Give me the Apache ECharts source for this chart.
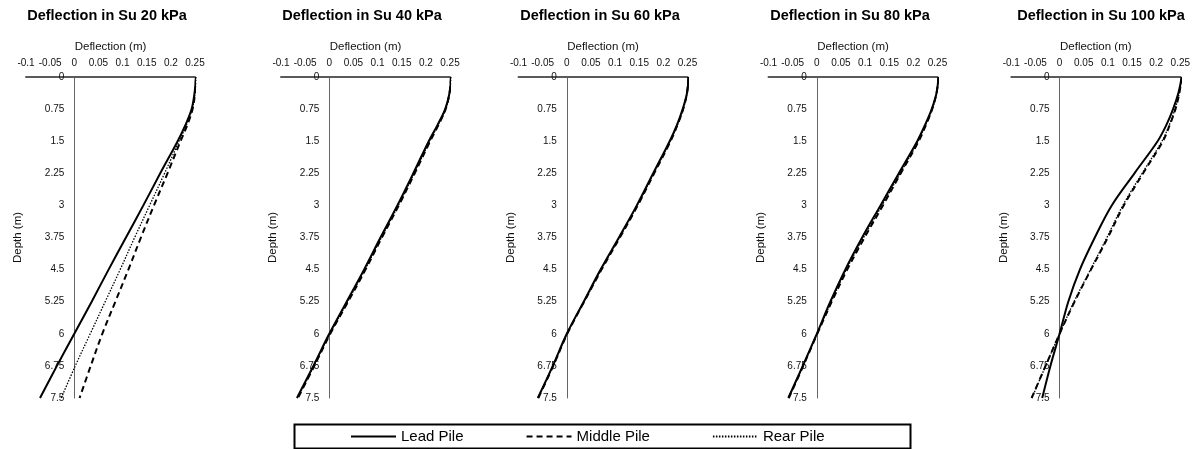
<!DOCTYPE html>
<html>
<head>
<meta charset="utf-8">
<script src="https://cdn.jsdelivr.net/npm/echarts@6/dist/echarts.min.js"></script>
<style>html,body{margin:0;padding:0;background:#fff}#c{width:1194px;height:449px}</style>
</head>
<body>
<div id="c"></div>
<script>
// ---- data ----
const panelTitles = ['Deflection in Su 20 kPa','Deflection in Su 40 kPa','Deflection in Su 60 kPa','Deflection in Su 80 kPa','Deflection in Su 100 kPa'];
const seriesNames = ['Lead Pile','Middle Pile','Rear Pile'];
const depths = [0, 0.375, 0.75, 1.125, 1.5, 2.25, 3, 3.75, 4.5, 5.25, 6, 6.75, 7.5];
const deflTicks = [-0.1, -0.05, 0, 0.05, 0.1, 0.15, 0.2, 0.25];
const depthTicks = [0, 0.75, 1.5, 2.25, 3, 3.75, 4.5, 5.25, 6, 6.75, 7.5];

const su20Lead   = [0.252, 0.249, 0.243, 0.230, 0.214, 0.178, 0.143, 0.107, 0.071, 0.036, 0.000, -0.036, -0.071];
const su20Middle = [0.252, 0.250, 0.245, 0.234, 0.220, 0.193, 0.165, 0.138, 0.112, 0.085, 0.058, 0.034, 0.011];
const su20Rear   = [0.252, 0.250, 0.244, 0.232, 0.217, 0.187, 0.156, 0.125, 0.095, 0.064, 0.033, 0.002, -0.027];

const su40Lead   = [0.252, 0.249, 0.240, 0.224, 0.206, 0.174, 0.141, 0.106, 0.072, 0.036, 0.000, -0.033, -0.067];
const su40Middle = [0.252, 0.249, 0.241, 0.226, 0.209, 0.177, 0.144, 0.109, 0.075, 0.039, 0.002, -0.031, -0.065];
const su40Rear   = [0.252, 0.249, 0.241, 0.225, 0.208, 0.176, 0.143, 0.108, 0.074, 0.038, 0.001, -0.032, -0.066];

const su60Lead   = [0.252, 0.249, 0.240, 0.228, 0.213, 0.179, 0.145, 0.108, 0.070, 0.035, 0.000, -0.029, -0.060];
const su60Middle = [0.252, 0.249, 0.241, 0.229, 0.215, 0.181, 0.147, 0.110, 0.072, 0.036, 0.001, -0.028, -0.059];
const su60Rear   = [0.252, 0.249, 0.241, 0.229, 0.214, 0.180, 0.146, 0.109, 0.071, 0.036, 0.0005, -0.0285, -0.0595];

const su80Lead   = [0.252, 0.248, 0.238, 0.224, 0.208, 0.170, 0.132, 0.094, 0.059, 0.028, 0.000, -0.029, -0.059];
const su80Middle = [0.252, 0.248, 0.239, 0.226, 0.211, 0.174, 0.137, 0.099, 0.063, 0.031, 0.001, -0.028, -0.058];
const su80Rear   = [0.252, 0.248, 0.239, 0.225, 0.210, 0.173, 0.135, 0.097, 0.061, 0.030, 0.0005, -0.0285, -0.0585];

const su100Lead   = [0.253, 0.246, 0.235, 0.221, 0.203, 0.155, 0.108, 0.073, 0.042, 0.018, 0.000, -0.019, -0.036];
const su100Middle = [0.253, 0.248, 0.240, 0.228, 0.214, 0.173, 0.133, 0.100, 0.065, 0.031, 0.000, -0.029, -0.058];
const su100Rear   = [0.253, 0.248, 0.239, 0.227, 0.212, 0.171, 0.131, 0.098, 0.064, 0.030, 0.000, -0.029, -0.057];

const panelData = [
  [su20Lead, su20Middle, su20Rear],
  [su40Lead, su40Middle, su40Rear],
  [su60Lead, su60Middle, su60Rear],
  [su80Lead, su80Middle, su80Rear],
  [su100Lead, su100Middle, su100Rear]
];

// ---- layout ----
const gridLefts = [26, 281, 518.5, 768.5, 1011.3];
const titleCenters = [102, 357, 595, 845, 1096];
const gridWidth = 169;
const gridTop = 77, gridHeight = 321;
const xMin = deflTicks[0], xMax = deflTicks[deflTicks.length - 1];
const yAxisShift = -(0 - xMin) / (xMax - xMin) * gridWidth; // y-axis drawn at deflection 0
const FONT = 'Liberation Sans, Arial, sans-serif';

const lineStyles = [
  {type: 'solid', width: 2, color: '#000'},
  {type: [6, 4], width: 2, color: '#000'},
  {type: [1.5, 1.5], width: 1.3, color: '#000'}
];

const grids = [], xAxes = [], yAxes = [], titles = [], series = [];
gridLefts.forEach((l, i) => {
  grids.push({left: l, top: gridTop, width: gridWidth, height: gridHeight, containLabel: false});
  titles.push({
    text: panelTitles[i], left: titleCenters[i], top: 3, textAlign: 'center',
    textStyle: {fontFamily: FONT, fontSize: 14.5, fontWeight: 'bold', color: '#000'}
  });
  xAxes.push({
    type: 'value', gridIndex: i, position: 'top',
    min: xMin, max: xMax, interval: 0.05,
    name: 'Deflection (m)', nameLocation: 'middle', nameGap: 21,
    nameTextStyle: {fontFamily: FONT, fontSize: 11.5, color: '#111'},
    axisLine: {onZero: false, lineStyle: {color: '#5a5a5a', width: 2}},
    axisTick: {show: false},
    axisLabel: {fontFamily: FONT, fontSize: 10, color: '#111', margin: 9, interval: 0,
                hideOverlap: false, showMinLabel: true, showMaxLabel: true},
    splitLine: {show: false}
  });
  yAxes.push({
    type: 'value', gridIndex: i, inverse: true, position: 'left', offset: yAxisShift,
    min: depthTicks[0], max: depthTicks[depthTicks.length - 1], interval: 0.75,
    name: 'Depth (m)', nameLocation: 'middle', nameGap: 50, nameRotate: 90,
    nameTextStyle: {fontFamily: FONT, fontSize: 11.5, color: '#111'},
    axisLine: {onZero: false, lineStyle: {color: '#666', width: 1}},
    axisTick: {show: false},
    axisLabel: {fontFamily: FONT, fontSize: 10, color: '#111', margin: 10, interval: 0,
                hideOverlap: false, showMinLabel: true, showMaxLabel: true},
    splitLine: {show: false}
  });
  panelData[i].forEach((vals, k) => {
    series.push({
      name: seriesNames[k], type: 'line', xAxisIndex: i, yAxisIndex: i,
      data: vals.map((v, j) => [v, depths[j]]),
      symbol: 'none', smooth: 0.35, lineStyle: lineStyles[k], color: '#000',
      z: 3 - k, silent: true, animation: false
    });
  });
});

const chart = echarts.init(document.getElementById('c'));
chart.setOption({
  animation: false,
  backgroundColor: '#fff',
  title: titles,
  grid: grids,
  xAxis: xAxes,
  yAxis: yAxes,
  legend: {
    data: seriesNames, left: 345, top: 424, itemWidth: 45, itemHeight: 10, itemGap: 62,
    textStyle: {fontFamily: FONT, fontSize: 15, color: '#000'},
    itemStyle: {color: 'rgba(0,0,0,0)', borderWidth: 0, opacity: 0}
  },
  graphic: [{
    type: 'rect', left: 292, top: 422, shape: {width: 616, height: 24},
    style: {fill: 'none', stroke: '#000', lineWidth: 2}, silent: true
  }],
  series: series
});
</script>
</body>
</html>
